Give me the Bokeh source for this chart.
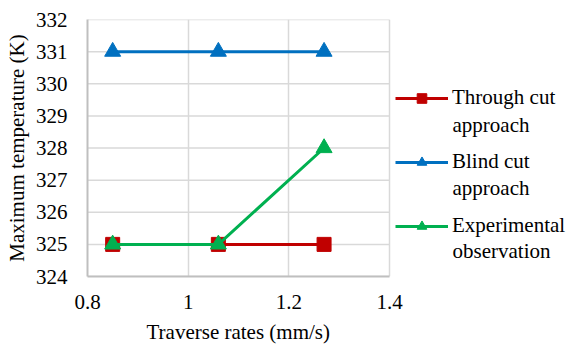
from bokeh.plotting import figure
from bokeh.models import Legend, LegendItem, FixedTicker, Range1d, Label, Title
from bokeh.embed import file_html
from bokeh.resources import INLINE

rates = [0.85, 1.06, 1.27]
through_cut = [325, 325, 325]
blind_cut = [331, 331, 331]
experimental = [325, 325, 328]
x_ticks = [0.8, 1.0, 1.2, 1.4]
y_ticks = [324, 325, 326, 327, 328, 329, 330, 331, 332]
first_lines = ["Through cut", "Blind cut", "Experimental"]
second_lines = ["approach", "approach", "observation"]

FONT = "Liberation Serif"
RED, BLUE, GREEN = "#C00000", "#0070C0", "#00B050"

# layout (pixels)
LEFT, TOP, PLOT_W, PLOT_H, TOTAL_W = 87, 19, 302, 257, 569
XMIN, XMAX, YMIN, YMAX = 0.8, 1.4, 324, 332
ppx = PLOT_W / (XMAX - XMIN)
ppy = PLOT_H / (YMAX - YMIN)
frame_w = TOTAL_W - LEFT

def xd(px):
    return XMIN + (px - LEFT) / ppx

def yd(py):
    return YMAX - (py - TOP) / ppy

p = figure(frame_width=frame_w, frame_height=PLOT_H, output_backend="svg", toolbar_location=None,
           x_range=Range1d(XMIN, XMIN + frame_w / ppx), y_range=Range1d(YMIN, YMAX),
           min_border_left=LEFT, min_border_right=0, min_border_top=TOP, min_border_bottom=69)
p.outline_line_color = None
p.background_fill_color = "white"
p.border_fill_color = "white"

for ax in (p.xaxis[0], p.yaxis[0]):
    ax.major_tick_line_color = None
    ax.minor_tick_line_color = None
    ax.axis_line_color = "#BFBFBF"
    ax.axis_line_width = 2
    ax.major_label_text_font = FONT
    ax.major_label_text_font_size = "21px"
    ax.major_label_text_color = "#000000"
    ax.axis_label_text_font = FONT
    ax.axis_label_text_font_size = "21px"
    ax.axis_label_text_font_style = "normal"
    ax.axis_label_text_color = "#000000"

p.xaxis.bounds = (XMIN, XMAX)
p.xaxis.ticker = FixedTicker(ticks=x_ticks)
p.xaxis.major_label_overrides = {0.8: "0.8", 1: "1", 1.2: "1.2", 1.4: "1.4"}
p.yaxis.ticker = FixedTicker(ticks=y_ticks)
p.yaxis.axis_label = "Maximum temperature (K)"
p.xaxis.major_label_standoff = 12
p.yaxis.major_label_standoff = 14
p.yaxis.axis_label_standoff = 4

# x axis title, centred under the plot area
x_title = Title(text="Traverse rates (mm/s)", align="left", offset=59,
                text_font=FONT, text_font_size="21px", text_font_style="normal",
                text_color="#000000", standoff=13)
p.add_layout(x_title, "below")

p.xgrid.grid_line_color = "#D9D9D9"
p.xgrid.grid_line_width = 1.5
p.ygrid.grid_line_color = None
# horizontal gridlines limited to the plot area
p.segment(x0=[XMIN] * len(y_ticks), y0=y_ticks, x1=[XMAX] * len(y_ticks), y1=y_ticks,
          line_color="#D9D9D9", line_width=1.5)

r1 = p.line(rates, through_cut, line_color=RED, line_width=3)
m1 = p.scatter(rates, through_cut, marker="square", size=14, fill_color=RED, line_color=RED)
r2 = p.line(rates, blind_cut, line_color=BLUE, line_width=3)
m2 = p.scatter(rates, blind_cut, marker="triangle", size=16, fill_color=BLUE, line_color=BLUE)
r3 = p.line(rates, experimental, line_color=GREEN, line_width=3)
m3 = p.scatter(rates, experimental, marker="triangle", size=16, fill_color=GREEN, line_color=GREEN)

# legend: first lines with samples
LEG_X, LEG_Y0, LEG_PITCH, LINE_GAP = 395, 100, 63, 24
legend = Legend(items=[
    LegendItem(label=first_lines[0], renderers=[r1, m1]),
    LegendItem(label=first_lines[1], renderers=[r2, m2]),
    LegendItem(label=first_lines[2], renderers=[r3, m3]),
], location=(LEG_X - LEFT, (TOP + PLOT_H) - (LEG_Y0 - 12 + 2 * LEG_PITCH + 24)))
legend.border_line_color = None
legend.background_fill_alpha = 0
legend.padding = 0
legend.margin = 0
legend.glyph_width = 53
legend.glyph_height = 24
legend.label_height = 24
legend.spacing = LEG_PITCH - 24
legend.label_standoff = 4
legend.label_text_font = FONT
legend.label_text_font_size = "21px"
legend.label_text_color = "#000000"
p.add_layout(legend, "center")

# second lines of legend labels
for i, txt in enumerate(second_lines):
    p.add_layout(Label(x=xd(LEG_X + 53 + 4), y=yd(LEG_Y0 + i * LEG_PITCH + LINE_GAP), text=txt,
                       text_font=FONT, text_font_size="21px", text_color="#000000",
                       text_baseline="middle", text_align="left"))

open("out.html", "w").write(file_html(p, INLINE))
